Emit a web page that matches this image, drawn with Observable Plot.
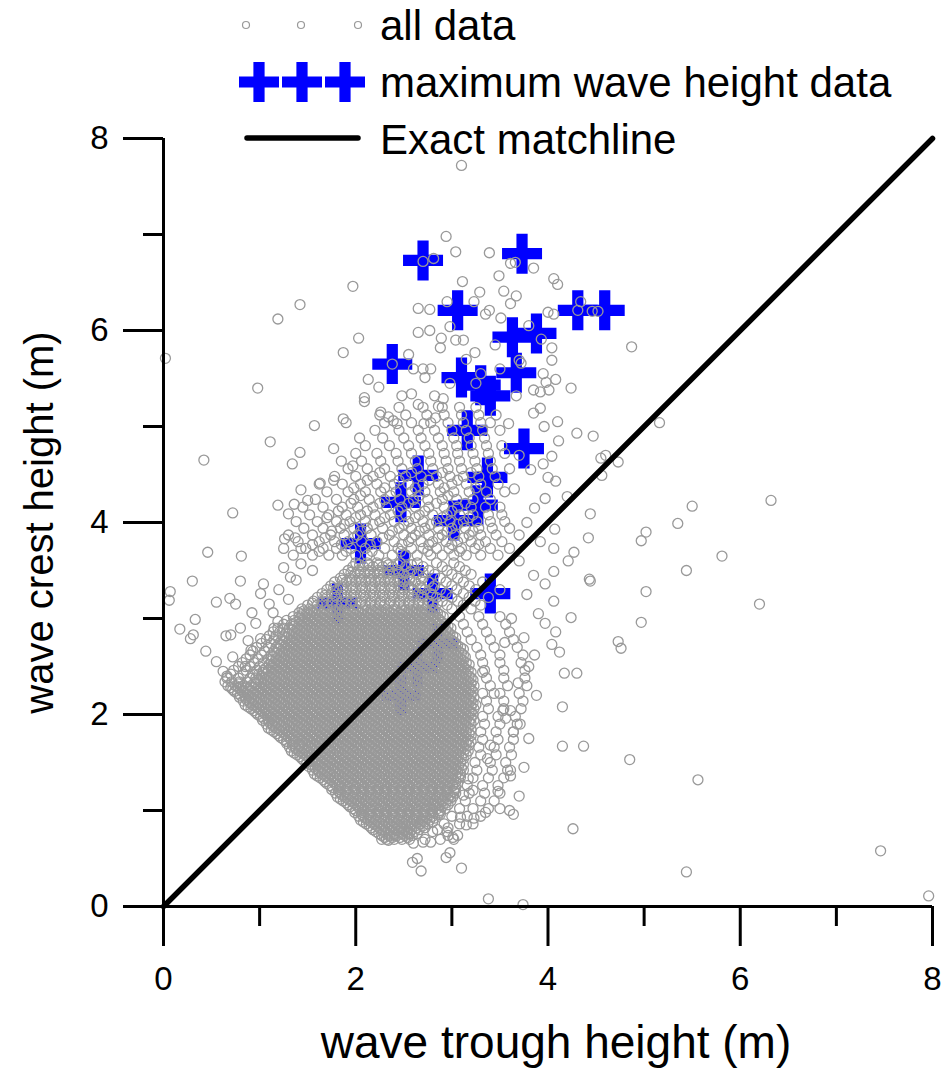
<!DOCTYPE html>
<html>
<head>
<meta charset="utf-8">
<script src="https://cdn.jsdelivr.net/npm/d3@7"></script>
<script src="https://cdn.jsdelivr.net/npm/@observablehq/plot@0.6"></script>
<style>
  html, body { margin: 0; padding: 0; background: #fff; }
  #chart { position: relative; width: 943px; height: 1068px; }
</style>
</head>
<body>
<div id="chart"></div>
<script>
// ---------- DATA ----------
const majorTicks = [0, 2, 4, 6, 8];
const minorTicks = [1, 3, 5, 7];
const xTitle = "wave trough height (m)";
const yTitle = "wave crest height (m)";
const legendLabels = ["all data", "maximum wave height data", "Exact matchline"];

// maximum wave height data (blue pluses)
const maxTrough = [2.70, 3.73, 3.06, 4.31, 4.59, 2.38, 3.63, 3.88, 3.10, 3.30, 3.40, 3.67, 3.16, 3.75, 2.65, 3.37, 2.47, 3.27, 3.02, 2.05, 2.50, 1.81, 2.80, 3.40, 2.85, 2.64, 2.47];
const maxCrest  = [6.73, 6.80, 6.21, 6.21, 6.21, 5.65, 5.93, 5.97, 5.51, 5.43, 5.32, 5.56, 4.96, 4.77, 4.49, 4.47, 4.21, 4.18, 4.02, 3.78, 3.50, 3.16, 3.26, 3.26, 2.74, 2.49, 2.20];

// exact matchline
const matchTrough = [0, 8];
const matchCrest = [0, 8];

// all data, dense cloud: [crest height, "trough heights ..."]
const coreRows = [
  [0.70, "2.27 2.32 2.40 2.48 2.56 2.72 2.88 3.02"],
  [0.74, "2.27 2.35 2.43 2.51 2.59"],
  [0.78, "2.21 2.29 2.37 2.45 2.53 2.61 2.80 2.95"],
  [0.82, "2.16 2.24 2.32 2.40 2.48 2.56 2.64 2.72"],
  [0.86, "2.11 2.19 2.27 2.35 2.43 2.51 2.59 2.67 2.75 2.92 3.08 3.22"],
  [0.90, "2.05 2.13 2.21 2.29 2.37 2.45 2.53 2.61 2.69 2.77"],
  [0.94, "2.03 2.08 2.16 2.24 2.32 2.40 2.48 2.56 2.64 2.72 2.80 3.00 3.16 3.30"],
  [0.98, "1.99 2.07 2.15 2.23 2.31 2.39 2.47 2.55 2.63 2.71 2.79 2.87"],
  [1.02, "1.97 2.05 2.13 2.21 2.29 2.37 2.45 2.53 2.61 2.69 2.77 2.85 2.93 3.08 3.22 3.38 3.50"],
  [1.06, "1.92 2.00 2.08 2.16 2.24 2.32 2.40 2.48 2.56 2.64 2.72 2.80 2.88 2.96"],
  [1.10, "1.87 1.95 2.03 2.11 2.19 2.27 2.35 2.43 2.51 2.59 2.67 2.75 2.83 2.91 2.99 3.14 3.30 3.44"],
  [1.14, "1.81 1.89 1.97 2.05 2.13 2.21 2.29 2.37 2.45 2.53 2.61 2.69 2.77 2.85 2.93 3.01"],
  [1.18, "1.79 1.84 1.92 2.00 2.08 2.16 2.24 2.32 2.40 2.48 2.56 2.64 2.72 2.80 2.88 2.96 3.04 3.18 3.34 3.50"],
  [1.22, "1.75 1.83 1.91 1.99 2.07 2.15 2.23 2.31 2.39 2.47 2.55 2.63 2.71 2.79 2.87 2.95 3.03"],
  [1.26, "1.73 1.81 1.89 1.97 2.05 2.13 2.21 2.29 2.37 2.45 2.53 2.61 2.69 2.77 2.85 2.93 3.01 3.16 3.32 3.48"],
  [1.30, "1.68 1.76 1.84 1.92 2.00 2.08 2.16 2.24 2.32 2.40 2.48 2.56 2.64 2.72 2.80 2.88 2.96 3.04"],
  [1.34, "1.63 1.71 1.79 1.87 1.95 2.03 2.11 2.19 2.27 2.35 2.43 2.51 2.59 2.67 2.75 2.83 2.91 2.99 3.07 3.22 3.38 3.54"],
  [1.38, "1.57 1.65 1.73 1.81 1.89 1.97 2.05 2.13 2.21 2.29 2.37 2.45 2.53 2.61 2.69 2.77 2.85 2.93 3.01 3.09"],
  [1.42, "1.55 1.61 1.68 1.76 1.84 1.92 2.00 2.08 2.16 2.24 2.32 2.40 2.48 2.56 2.64 2.72 2.80 2.88 2.96 3.04 3.12 3.26 3.42 3.58"],
  [1.46, "1.51 1.56 1.63 1.71 1.79 1.87 1.95 2.03 2.11 2.19 2.27 2.35 2.43 2.51 2.59 2.67 2.75 2.83 2.91 2.99 3.07"],
  [1.50, "1.49 1.57 1.65 1.73 1.81 1.89 1.97 2.05 2.13 2.21 2.29 2.37 2.45 2.53 2.61 2.69 2.77 2.85 2.93 3.01 3.09 3.24 3.40 3.56"],
  [1.54, "1.44 1.52 1.60 1.68 1.76 1.84 1.92 2.00 2.08 2.16 2.24 2.32 2.40 2.48 2.56 2.64 2.72 2.80 2.88 2.96 3.04 3.12"],
  [1.58, "1.39 1.47 1.55 1.63 1.71 1.79 1.87 1.95 2.03 2.11 2.19 2.27 2.35 2.43 2.51 2.59 2.67 2.75 2.83 2.91 2.99 3.07 3.15 3.30 3.46 3.62"],
  [1.62, "1.33 1.41 1.49 1.57 1.65 1.73 1.81 1.89 1.97 2.05 2.13 2.21 2.29 2.37 2.45 2.53 2.61 2.69 2.77 2.85 2.93 3.01 3.09 3.17"],
  [1.66, "1.31 1.37 1.44 1.52 1.60 1.68 1.76 1.84 1.92 2.00 2.08 2.16 2.24 2.32 2.40 2.48 2.56 2.64 2.72 2.80 2.88 2.96 3.04 3.12 3.28 3.44 3.60"],
  [1.70, "1.28 1.35 1.41 1.47 1.55 1.63 1.71 1.79 1.87 1.95 2.03 2.11 2.19 2.27 2.35 2.43 2.51 2.59 2.67 2.75 2.83 2.91 2.99 3.07 3.15"],
  [1.74, "1.25 1.33 1.41 1.49 1.57 1.65 1.73 1.81 1.89 1.97 2.05 2.13 2.21 2.29 2.37 2.45 2.53 2.61 2.69 2.77 2.85 2.93 3.01 3.09 3.17 3.32 3.48 3.64"],
  [1.78, "1.20 1.28 1.36 1.44 1.52 1.60 1.68 1.76 1.84 1.92 2.00 2.08 2.16 2.24 2.32 2.40 2.48 2.56 2.64 2.72 2.80 2.88 2.96 3.04 3.12 3.20"],
  [1.82, "1.15 1.23 1.31 1.39 1.47 1.55 1.63 1.71 1.79 1.87 1.95 2.03 2.11 2.19 2.27 2.35 2.43 2.51 2.59 2.67 2.75 2.83 2.91 2.99 3.07 3.15 3.30 3.46 3.64"],
  [1.86, "1.09 1.17 1.25 1.33 1.41 1.49 1.57 1.65 1.73 1.81 1.89 1.97 2.05 2.13 2.21 2.29 2.37 2.45 2.53 2.61 2.69 2.77 2.85 2.93 3.01 3.09 3.17"],
  [1.90, "1.07 1.13 1.20 1.28 1.36 1.44 1.52 1.60 1.68 1.76 1.84 1.92 2.00 2.08 2.16 2.24 2.32 2.40 2.48 2.56 2.64 2.72 2.80 2.88 2.96 3.04 3.12 3.20 3.34 3.50 3.68"],
  [1.94, "1.03 1.09 1.15 1.23 1.31 1.39 1.47 1.55 1.63 1.71 1.79 1.87 1.95 2.03 2.11 2.19 2.27 2.35 2.43 2.51 2.59 2.67 2.75 2.83 2.91 2.99 3.07 3.15 3.23"],
  [1.98, "1.01 1.09 1.17 1.25 1.33 1.41 1.49 1.57 1.65 1.73 1.81 1.89 1.97 2.05 2.13 2.21 2.29 2.37 2.45 2.53 2.61 2.69 2.77 2.85 2.93 3.01 3.09 3.17 3.32 3.48 3.66"],
  [2.02, "0.96 1.04 1.12 1.20 1.28 1.36 1.44 1.52 1.60 1.68 1.76 1.84 1.92 2.00 2.08 2.16 2.24 2.32 2.40 2.48 2.56 2.64 2.72 2.80 2.88 2.96 3.04 3.12 3.20"],
  [2.06, "0.91 0.99 1.07 1.15 1.23 1.31 1.39 1.47 1.55 1.63 1.71 1.79 1.87 1.95 2.03 2.11 2.19 2.27 2.35 2.43 2.51 2.59 2.67 2.75 2.83 2.91 2.99 3.07 3.15 3.23 3.38 3.54 3.72"],
  [2.10, "0.85 0.93 1.01 1.09 1.17 1.25 1.33 1.41 1.49 1.57 1.65 1.73 1.81 1.89 1.97 2.05 2.13 2.21 2.29 2.37 2.45 2.53 2.61 2.69 2.77 2.85 2.93 3.01 3.09 3.17 3.25"],
  [2.14, "0.83 0.89 0.96 1.04 1.12 1.20 1.28 1.36 1.44 1.52 1.60 1.68 1.76 1.84 1.92 2.00 2.08 2.16 2.24 2.32 2.40 2.48 2.56 2.64 2.72 2.80 2.88 2.96 3.04 3.12 3.20 3.36 3.54 3.74"],
  [2.18, "0.79 0.85 0.91 0.99 1.07 1.15 1.23 1.31 1.39 1.47 1.55 1.63 1.71 1.79 1.87 1.95 2.03 2.11 2.19 2.27 2.35 2.43 2.51 2.59 2.67 2.75 2.83 2.91 2.99 3.07 3.15 3.23"],
  [2.22, "0.77 0.85 0.93 1.01 1.09 1.17 1.25 1.33 1.41 1.49 1.57 1.65 1.73 1.81 1.89 1.97 2.05 2.13 2.21 2.29 2.37 2.45 2.53 2.61 2.69 2.77 2.85 2.93 3.01 3.09 3.17 3.32 3.50 3.70"],
  [2.26, "0.72 0.80 0.88 0.96 1.04 1.12 1.20 1.28 1.36 1.44 1.52 1.60 1.68 1.76 1.84 1.92 2.00 2.08 2.16 2.24 2.32 2.40 2.48 2.56 2.64 2.72 2.80 2.88 2.96 3.04 3.12 3.20"],
  [2.30, "0.67 0.75 0.83 0.91 0.99 1.07 1.15 1.23 1.31 1.39 1.47 1.55 1.63 1.71 1.79 1.87 1.95 2.03 2.11 2.19 2.27 2.35 2.43 2.51 2.59 2.67 2.75 2.83 2.91 2.99 3.07 3.15 3.23 3.40 3.58 3.78"],
  [2.34, "0.64 0.71 0.79 0.87 0.95 1.01 1.09 1.17 1.25 1.33 1.41 1.49 1.57 1.65 1.73 1.81 1.89 1.97 2.05 2.13 2.21 2.29 2.37 2.45 2.53 2.61 2.69 2.77 2.85 2.93 3.01 3.09 3.17"],
  [2.38, "0.66 0.78 0.90 0.96 1.04 1.12 1.20 1.28 1.36 1.44 1.52 1.60 1.68 1.76 1.84 1.92 2.00 2.08 2.16 2.24 2.32 2.40 2.48 2.56 2.64 2.72 2.80 2.88 2.96 3.04 3.12 3.20 3.36 3.54 3.76"],
  [2.42, "0.70 0.83 0.93 0.99 1.07 1.15 1.23 1.31 1.39 1.47 1.55 1.63 1.71 1.79 1.87 1.95 2.03 2.11 2.19 2.27 2.35 2.43 2.51 2.59 2.67 2.75 2.83 2.91 2.99 3.07 3.15"],
  [2.46, "0.73 0.86 0.97 1.04 1.09 1.17 1.25 1.33 1.41 1.49 1.57 1.65 1.73 1.81 1.89 1.97 2.05 2.13 2.21 2.29 2.37 2.45 2.53 2.61 2.69 2.77 2.85 2.93 3.01 3.09 3.17 3.34 3.54 3.76"],
  [2.50, "0.78 0.90 1.00 1.12 1.20 1.28 1.36 1.44 1.52 1.60 1.68 1.76 1.84 1.92 2.00 2.08 2.16 2.24 2.32 2.40 2.48 2.56 2.64 2.72 2.80 2.88 2.96 3.04 3.12"],
  [2.54, "0.82 0.94 1.04 1.15 1.23 1.31 1.39 1.47 1.55 1.63 1.71 1.79 1.87 1.95 2.03 2.11 2.19 2.27 2.35 2.43 2.51 2.59 2.67 2.75 2.83 2.91 2.99 3.07 3.15 3.32 3.50 3.72"],
  [2.58, "0.86 0.98 1.09 1.17 1.25 1.33 1.41 1.49 1.57 1.65 1.73 1.81 1.89 1.97 2.05 2.13 2.21 2.29 2.37 2.45 2.53 2.61 2.69 2.77 2.85 2.93 3.01 3.09"],
  [2.62, "0.90 1.02 1.12 1.20 1.28 1.36 1.44 1.52 1.60 1.68 1.76 1.84 1.92 2.00 2.08 2.16 2.24 2.32 2.40 2.48 2.56 2.64 2.72 2.80 2.88 2.96 3.04 3.12 3.30 3.50 3.74"],
  [2.66, "0.93 1.05 1.15 1.23 1.31 1.39 1.47 1.55 1.63 1.71 1.79 1.87 1.95 2.03 2.11 2.19 2.27 2.35 2.43 2.51 2.59 2.67 2.75 2.83 2.91 2.99 3.07"],
  [2.70, "0.97 1.09 1.17 1.25 1.33 1.41 1.49 1.57 1.65 1.73 1.81 1.89 1.97 2.05 2.13 2.21 2.29 2.37 2.45 2.53 2.61 2.69 2.77 2.85 2.93 3.01 3.09 3.26 3.44 3.68"],
  [2.74, "1.02 1.12 1.20 1.28 1.36 1.44 1.52 1.60 1.68 1.76 1.84 1.92 2.00 2.08 2.16 2.24 2.32 2.40 2.48 2.56 2.64 2.72 2.80 2.88 2.96 3.04"],
  [2.78, "1.07 1.15 1.23 1.31 1.39 1.47 1.55 1.63 1.71 1.79 1.87 1.95 2.03 2.11 2.19 2.27 2.35 2.43 2.51 2.59 2.67 2.75 2.83 2.91 2.99 3.20 3.40 3.64"],
  [2.82, "1.10 1.17 1.25 1.33 1.41 1.49 1.57 1.65 1.73 1.81 1.89 1.97 2.05 2.13 2.21 2.29 2.37 2.45 2.53 2.61 2.69 2.77 2.85 2.93 3.01"],
  [2.86, "1.14 1.21 1.28 1.36 1.44 1.52 1.60 1.68 1.76 1.84 1.92 2.00 2.08 2.16 2.24 2.32 2.40 2.48 2.56 2.64 2.72 2.80 2.88 2.96 3.16 3.36 3.60"],
  [2.90, "1.19 1.25 1.31 1.39 1.47 1.55 1.63 1.71 1.79 1.87 1.95 2.03 2.11 2.19 2.27 2.35 2.43 2.51 2.59 2.67 2.75 2.83 2.91 2.99"],
  [2.94, "1.25 1.33 1.41 1.49 1.57 1.65 1.73 1.81 1.89 1.97 2.05 2.13 2.21 2.29 2.37 2.45 2.53 2.61 2.69 2.77 2.85 2.93 3.12 3.32 3.56"],
  [2.98, "1.28 1.36 1.44 1.52 1.60 1.68 1.76 1.84 1.92 2.00 2.08 2.16 2.24 2.32 2.40 2.48 2.56 2.64 2.72 2.80 2.88"],
  [3.02, "1.35 1.41 1.47 1.55 1.63 1.71 1.79 1.87 1.95 2.03 2.11 2.19 2.27 2.35 2.43 2.51 2.59 2.67 2.75 2.83 2.91 3.08 3.28 3.50"],
  [3.06, "1.41 1.49 1.57 1.65 1.73 1.81 1.89 1.97 2.05 2.13 2.21 2.29 2.37 2.45 2.53 2.61 2.69 2.77 2.85"],
  [3.10, "1.44 1.52 1.60 1.68 1.76 1.84 1.92 2.00 2.08 2.16 2.24 2.32 2.40 2.48 2.56 2.64 2.72 2.80 3.00 3.20"],
  [3.14, "1.50 1.60 1.70 1.80 1.90 2.00 2.10 2.20 2.30 2.40 2.50 2.60 2.70 2.80 2.95 3.12 3.30"],
  [3.18, "1.56 1.66 1.76 1.86 1.96 2.06 2.16 2.26 2.36 2.46 2.56 2.66 2.76 2.90 3.06 3.24"],
  [3.22, "1.60 1.70 1.80 1.90 2.00 2.10 2.20 2.30 2.40 2.50 2.60 2.70 2.84 3.00 3.18 3.38"],
  [3.26, "1.65 1.75 1.85 1.95 2.05 2.15 2.25 2.35 2.45 2.55 2.65 2.78 2.94 3.12"],
  [3.30, "1.70 1.80 1.90 2.00 2.10 2.20 2.30 2.40 2.50 2.60 2.72 2.88 3.05 3.25"],
  [3.34, "1.74 1.85 1.95 2.05 2.15 2.25 2.35 2.45 2.55 2.67 2.82 3.00 3.18"],
  [3.38, "1.78 1.90 2.00 2.10 2.20 2.30 2.40 2.50 2.62 2.76 2.94 3.12 3.32"],
  [3.42, "1.84 1.94 2.04 2.14 2.24 2.34 2.44 2.56 2.70 2.88 3.06"],
  [3.46, "1.88 1.99 2.09 2.19 2.29 2.39 2.50 2.64 2.82 3.00 3.20"],
  [3.50, "1.92 2.03 2.13 2.23 2.33 2.44 2.58 2.76 2.95 3.14"],
  [3.54, "1.97 2.08 2.18 2.28 2.38 2.52 2.70 2.90 3.08"],
  [3.58, "2.00 2.12 2.22 2.32 2.46 2.64 2.84 3.02"]
];

// all data, the same cloud's in-between readings where it is solid grey
const coreRowsFill = [
  [0.72, "2.30 2.38 2.46 2.54"],
  [0.76, "2.24 2.32 2.40 2.48 2.56 2.64"],
  [0.80, "2.18 2.26 2.34 2.42 2.50 2.58 2.66"],
  [0.84, "2.14 2.22 2.30 2.38 2.46 2.54 2.62 2.70"],
  [0.88, "2.08 2.16 2.24 2.32 2.40 2.48 2.56 2.64 2.72 2.80"],
  [0.92, "2.10 2.18 2.26 2.34 2.42 2.50 2.58 2.66 2.74 2.82"],
  [0.96, "2.06 2.14 2.22 2.30 2.38 2.46 2.54 2.62 2.70 2.78 2.86"],
  [1.00, "2.00 2.08 2.16 2.24 2.32 2.40 2.48 2.56 2.64 2.72 2.80 2.88"],
  [1.04, "1.94 2.02 2.10 2.18 2.26 2.34 2.42 2.50 2.58 2.66 2.74 2.82 2.90"],
  [1.08, "1.90 1.98 2.06 2.14 2.22 2.30 2.38 2.46 2.54 2.62 2.70 2.78 2.86 2.94"],
  [1.12, "1.84 1.92 2.00 2.08 2.16 2.24 2.32 2.40 2.48 2.56 2.64 2.72 2.80 2.88 2.96"],
  [1.16, "1.86 1.94 2.02 2.10 2.18 2.26 2.34 2.42 2.50 2.58 2.66 2.74 2.82 2.90 2.98"],
  [1.20, "1.82 1.90 1.98 2.06 2.14 2.22 2.30 2.38 2.46 2.54 2.62 2.70 2.78 2.86 2.94 3.02"],
  [1.24, "1.76 1.84 1.92 2.00 2.08 2.16 2.24 2.32 2.40 2.48 2.56 2.64 2.72 2.80 2.88 2.96 3.04"],
  [1.28, "1.70 1.78 1.86 1.94 2.02 2.10 2.18 2.26 2.34 2.42 2.50 2.58 2.66 2.74 2.82 2.90 2.98 3.06"],
  [1.32, "1.66 1.74 1.82 1.90 1.98 2.06 2.14 2.22 2.30 2.38 2.46 2.54 2.62 2.70 2.78 2.86 2.94 3.02"],
  [1.36, "1.60 1.68 1.76 1.84 1.92 2.00 2.08 2.16 2.24 2.32 2.40 2.48 2.56 2.64 2.72 2.80 2.88 2.96 3.04"],
  [1.40, "1.62 1.70 1.78 1.86 1.94 2.02 2.10 2.18 2.26 2.34 2.42 2.50 2.58 2.66 2.74 2.82 2.90 2.98 3.06"],
  [1.44, "1.58 1.66 1.74 1.82 1.90 1.98 2.06 2.14 2.22 2.30 2.38 2.46 2.54 2.62 2.70 2.78 2.86 2.94 3.02 3.10"],
  [1.48, "1.52 1.60 1.68 1.76 1.84 1.92 2.00 2.08 2.16 2.24 2.32 2.40 2.48 2.56 2.64 2.72 2.80 2.88 2.96 3.04 3.12"],
  [1.52, "1.46 1.54 1.62 1.70 1.78 1.86 1.94 2.02 2.10 2.18 2.26 2.34 2.42 2.50 2.58 2.66 2.74 2.82 2.90 2.98 3.06"],
  [1.56, "1.42 1.50 1.58 1.66 1.74 1.82 1.90 1.98 2.06 2.14 2.22 2.30 2.38 2.46 2.54 2.62 2.70 2.78 2.86 2.94 3.02 3.10"],
  [1.60, "1.36 1.44 1.52 1.60 1.68 1.76 1.84 1.92 2.00 2.08 2.16 2.24 2.32 2.40 2.48 2.56 2.64 2.72 2.80 2.88 2.96 3.04 3.12"],
  [1.64, "1.38 1.46 1.54 1.62 1.70 1.78 1.86 1.94 2.02 2.10 2.18 2.26 2.34 2.42 2.50 2.58 2.66 2.74 2.82 2.90 2.98 3.06 3.14"],
  [1.68, "1.34 1.42 1.50 1.58 1.66 1.74 1.82 1.90 1.98 2.06 2.14 2.22 2.30 2.38 2.46 2.54 2.62 2.70 2.78 2.86 2.94 3.02 3.10 3.18"],
  [1.72, "1.28 1.36 1.44 1.52 1.60 1.68 1.76 1.84 1.92 2.00 2.08 2.16 2.24 2.32 2.40 2.48 2.56 2.64 2.72 2.80 2.88 2.96 3.04 3.12 3.20"],
  [1.76, "1.22 1.30 1.38 1.46 1.54 1.62 1.70 1.78 1.86 1.94 2.02 2.10 2.18 2.26 2.34 2.42 2.50 2.58 2.66 2.74 2.82 2.90 2.98 3.06 3.14"],
  [1.80, "1.18 1.26 1.34 1.42 1.50 1.58 1.66 1.74 1.82 1.90 1.98 2.06 2.14 2.22 2.30 2.38 2.46 2.54 2.62 2.70 2.78 2.86 2.94 3.02 3.10 3.18"],
  [1.84, "1.12 1.20 1.28 1.36 1.44 1.52 1.60 1.68 1.76 1.84 1.92 2.00 2.08 2.16 2.24 2.32 2.40 2.48 2.56 2.64 2.72 2.80 2.88 2.96 3.04 3.12 3.20"],
  [1.88, "1.14 1.22 1.30 1.38 1.46 1.54 1.62 1.70 1.78 1.86 1.94 2.02 2.10 2.18 2.26 2.34 2.42 2.50 2.58 2.66 2.74 2.82 2.90 2.98 3.06 3.14"],
  [1.92, "1.10 1.18 1.26 1.34 1.42 1.50 1.58 1.66 1.74 1.82 1.90 1.98 2.06 2.14 2.22 2.30 2.38 2.46 2.54 2.62 2.70 2.78 2.86 2.94 3.02 3.10 3.18"],
  [1.96, "1.04 1.12 1.20 1.28 1.36 1.44 1.52 1.60 1.68 1.76 1.84 1.92 2.00 2.08 2.16 2.24 2.32 2.40 2.48 2.56 2.64 2.72 2.80 2.88 2.96 3.04 3.12 3.20"],
  [2.00, "0.98 1.06 1.14 1.22 1.30 1.38 1.46 1.54 1.62 1.70 1.78 1.86 1.94 2.02 2.10 2.18 2.26 2.34 2.42 2.50 2.58 2.66 2.74 2.82 2.90 2.98 3.06 3.14 3.22"],
  [2.04, "0.94 1.02 1.10 1.18 1.26 1.34 1.42 1.50 1.58 1.66 1.74 1.82 1.90 1.98 2.06 2.14 2.22 2.30 2.38 2.46 2.54 2.62 2.70 2.78 2.86 2.94 3.02 3.10 3.18"],
  [2.08, "0.88 0.96 1.04 1.12 1.20 1.28 1.36 1.44 1.52 1.60 1.68 1.76 1.84 1.92 2.00 2.08 2.16 2.24 2.32 2.40 2.48 2.56 2.64 2.72 2.80 2.88 2.96 3.04 3.12 3.20"],
  [2.12, "0.90 0.98 1.06 1.14 1.22 1.30 1.38 1.46 1.54 1.62 1.70 1.78 1.86 1.94 2.02 2.10 2.18 2.26 2.34 2.42 2.50 2.58 2.66 2.74 2.82 2.90 2.98 3.06 3.14 3.22"],
  [2.16, "0.86 0.94 1.02 1.10 1.18 1.26 1.34 1.42 1.50 1.58 1.66 1.74 1.82 1.90 1.98 2.06 2.14 2.22 2.30 2.38 2.46 2.54 2.62 2.70 2.78 2.86 2.94 3.02 3.10 3.18"],
  [2.20, "0.80 0.88 0.96 1.04 1.12 1.20 1.28 1.36 1.44 1.52 1.60 1.68 1.76 1.84 1.92 2.00 2.08 2.16 2.24 2.32 2.40 2.48 2.56 2.64 2.72 2.80 2.88 2.96 3.04 3.12 3.20"],
  [2.24, "0.74 0.82 0.90 0.98 1.06 1.14 1.22 1.30 1.38 1.46 1.54 1.62 1.70 1.78 1.86 1.94 2.02 2.10 2.18 2.26 2.34 2.42 2.50 2.58 2.66 2.74 2.82 2.90 2.98 3.06 3.14 3.22"],
  [2.28, "0.70 0.78 0.86 0.94 1.02 1.10 1.18 1.26 1.34 1.42 1.50 1.58 1.66 1.74 1.82 1.90 1.98 2.06 2.14 2.22 2.30 2.38 2.46 2.54 2.62 2.70 2.78 2.86 2.94 3.02 3.10 3.18"],
  [2.32, "0.96 1.04 1.12 1.20 1.28 1.36 1.44 1.52 1.60 1.68 1.76 1.84 1.92 2.00 2.08 2.16 2.24 2.32 2.40 2.48 2.56 2.64 2.72 2.80 2.88 2.96 3.04 3.12 3.20"],
  [2.36, "0.98 1.06 1.14 1.22 1.30 1.38 1.46 1.54 1.62 1.70 1.78 1.86 1.94 2.02 2.10 2.18 2.26 2.34 2.42 2.50 2.58 2.66 2.74 2.82 2.90 2.98 3.06 3.14 3.22"],
  [2.40, "1.02 1.10 1.18 1.26 1.34 1.42 1.50 1.58 1.66 1.74 1.82 1.90 1.98 2.06 2.14 2.22 2.30 2.38 2.46 2.54 2.62 2.70 2.78 2.86 2.94 3.02 3.10 3.18"],
  [2.44, "1.04 1.12 1.20 1.28 1.36 1.44 1.52 1.60 1.68 1.76 1.84 1.92 2.00 2.08 2.16 2.24 2.32 2.40 2.48 2.56 2.64 2.72 2.80 2.88 2.96 3.04 3.12 3.20"],
  [2.48, "1.06 1.14 1.22 1.30 1.38 1.46 1.54 1.62 1.70 1.78 1.86 1.94 2.02 2.10 2.18 2.26 2.34 2.42 2.50 2.58 2.66 2.74 2.82 2.90 2.98 3.06 3.14"],
  [2.52, "1.10 1.18 1.26 1.34 1.42 1.50 1.58 1.66 1.74 1.82 1.90 1.98 2.06 2.14 2.22 2.30 2.38 2.46 2.54 2.62 2.70 2.78 2.86 2.94 3.02 3.10 3.18"],
  [2.56, "1.12 1.20 1.28 1.36 1.44 1.52 1.60 1.68 1.76 1.84 1.92 2.00 2.08 2.16 2.24 2.32 2.40 2.48 2.56 2.64 2.72 2.80 2.88 2.96 3.04 3.12"],
  [2.60, "1.14 1.22 1.30 1.38 1.46 1.54 1.62 1.70 1.78 1.86 1.94 2.02 2.10 2.18 2.26 2.34 2.42 2.50 2.58 2.66 2.74 2.82 2.90 2.98 3.06 3.14"],
  [2.64, "1.18 1.26 1.34 1.42 1.50 1.58 1.66 1.74 1.82 1.90 1.98 2.06 2.14 2.22 2.30 2.38 2.46 2.54 2.62 2.70 2.78 2.86 2.94 3.02 3.10"],
  [2.68, "1.20 1.28 1.36 1.44 1.52 1.60 1.68 1.76 1.84 1.92 2.00 2.08 2.16 2.24 2.32 2.40 2.48 2.56 2.64 2.72 2.80 2.88 2.96 3.04 3.12"],
  [2.72, "1.22 1.30 1.38 1.46 1.54 1.62 1.70 1.78 1.86 1.94 2.02 2.10 2.18 2.26 2.34 2.42 2.50 2.58 2.66 2.74 2.82 2.90 2.98 3.06"],
  [2.76, "1.26 1.34 1.42 1.50 1.58 1.66 1.74 1.82 1.90 1.98 2.06 2.14 2.22 2.30 2.38 2.46 2.54 2.62 2.70 2.78 2.86 2.94 3.02"],
  [2.80, "1.28 1.36 1.44 1.52 1.60 1.68 1.76 1.84 1.92 2.00 2.08 2.16 2.24 2.32 2.40 2.48 2.56 2.64 2.72 2.80 2.88 2.96 3.04"],
  [2.84, "1.30 1.38 1.46 1.54 1.62 1.70 1.78 1.86 1.94 2.02 2.10 2.18 2.26 2.34 2.42 2.50 2.58 2.66 2.74 2.82 2.90 2.98"],
  [2.88, "1.34 1.42 1.50 1.58 1.66 1.74 1.82 1.90 1.98 2.06 2.14 2.22 2.30 2.38 2.46 2.54 2.62 2.70 2.78 2.86 2.94"],
  [2.92, "1.36 1.44 1.52 1.60 1.68 1.76 1.84 1.92 2.00 2.08 2.16 2.24 2.32 2.40 2.48 2.56 2.64 2.72 2.80 2.88 2.96"],
  [2.96, "1.38 1.46 1.54 1.62 1.70 1.78 1.86 1.94 2.02 2.10 2.18 2.26 2.34 2.42 2.50 2.58 2.66 2.74 2.82 2.90"],
  [3.00, "1.42 1.50 1.58 1.66 1.74 1.82 1.90 1.98 2.06 2.14 2.22 2.30 2.38 2.46 2.54 2.62 2.70 2.78 2.86"],
  [3.04, "1.44 1.52 1.60 1.68 1.76 1.84 1.92 2.00 2.08 2.16 2.24 2.32 2.40 2.48 2.56 2.64 2.72 2.80 2.88"],
  [3.08, "1.46 1.54 1.62 1.70 1.78 1.86 1.94 2.02 2.10 2.18 2.26 2.34 2.42 2.50 2.58 2.66 2.74 2.82"],
  [3.16, "1.55 1.65 1.75 1.85 1.95 2.05 2.15 2.25 2.35 2.45 2.55 2.65 2.75 2.85"],
  [3.24, "1.68 1.78 1.88 1.98 2.08 2.18 2.28 2.38 2.48 2.58 2.68 2.80"],
  [3.32, "1.77 1.87 1.97 2.07 2.17 2.27 2.37 2.47 2.57 2.68 2.80"],
  [3.40, "1.86 1.96 2.06 2.16 2.26 2.36 2.46 2.56 2.68"],
  [3.48, "1.95 2.05 2.15 2.25 2.35 2.45 2.56 2.70"],
  [3.56, "2.04 2.14 2.24 2.34 2.44 2.58"]
];

// all data, upper cloud (moderate density)
const upperRows = [
  [3.66, "1.35 1.55 1.72 1.86 2.00 2.12 2.24 2.38 2.52 2.64 2.78 2.90 3.02 3.15 3.30 3.48"],
  [3.70, "1.62 1.90 2.17 2.47 2.75 3.08"],
  [3.73, "1.25 1.48 1.66 1.80 1.95 2.10 2.30 2.44 2.58 2.70 2.84 2.97 3.10 3.24 3.40 3.60"],
  [3.77, "1.55 1.85 2.15 2.48 2.76 3.00 3.28"],
  [3.80, "1.40 1.62 1.78 1.92 2.06 2.22 2.40 2.55 2.68 2.80 2.94 3.06 3.20 3.35 3.52"],
  [3.84, "1.68 1.98 2.28 2.58 2.86 3.12"],
  [3.87, "1.30 1.55 1.74 1.88 2.02 2.16 2.35 2.50 2.62 2.76 2.90 3.03 3.18 3.30 3.46 3.70"],
  [3.91, "1.75 2.05 2.38 2.66 2.95 3.22"],
  [3.94, "1.46 1.66 1.84 1.98 2.12 2.28 2.45 2.58 2.72 2.86 3.00 3.14 3.28 3.42 3.60"],
  [3.98, "1.88 2.18 2.50 2.78 3.06"],
  [4.01, "1.38 1.60 1.80 1.94 2.10 2.25 2.40 2.55 2.70 2.84 2.98 3.12 3.26 3.40 3.55"],
  [4.05, "1.70 2.00 2.30 2.62 2.90 3.18"],
  [4.08, "1.52 1.72 1.90 2.05 2.20 2.36 2.52 2.66 2.80 2.95 3.08 3.22 3.38 3.52"],
  [4.12, "1.82 2.12 2.44 2.72 3.00"],
  [4.16, "1.45 1.66 1.86 2.02 2.18 2.32 2.48 2.62 2.76 2.92 3.06 3.20 3.35 3.50"],
  [4.20, "1.95 2.25 2.55 2.84 3.14"],
  [4.24, "1.58 1.80 1.98 2.14 2.30 2.46 2.60 2.75 2.90 3.05 3.22 3.40"],
  [4.28, "2.05 2.36 2.66 2.96"],
  [4.32, "1.70 1.92 2.10 2.26 2.42 2.58 2.72 2.88 3.02 3.18 3.36 3.55"],
  [4.36, "1.98 2.30 2.62 2.92 3.25"],
  [4.40, "1.62 1.86 2.05 2.22 2.40 2.55 2.70 2.86 3.00 3.15 3.30 3.48"],
  [4.44, "2.12 2.45 2.76 3.06"],
  [4.48, "1.78 2.00 2.18 2.36 2.52 2.68 2.84 2.98 3.12 3.28 3.45"],
  [4.52, "2.25 2.58 2.90 3.20"],
  [4.56, "1.92 2.12 2.30 2.48 2.64 2.80 2.96 3.10 3.26 3.42 3.60"],
  [4.64, "1.85 2.06 2.26 2.44 2.62 2.78 2.94 3.08 3.24 3.40"],
  [4.72, "2.00 2.22 2.42 2.58 2.76 2.92 3.06 3.22 3.38 3.55"],
  [4.80, "2.10 2.35 2.55 2.72 2.90 3.05 3.20 3.36 3.52"],
  [4.88, "2.04 2.28 2.50 2.68 2.86 3.02 3.18 3.34"],
  [4.96, "2.20 2.45 2.65 2.82 3.00 3.15 3.32 3.50"],
  [5.04, "2.30 2.58 2.78 2.96 3.12 3.30"],
  [5.12, "2.25 2.52 2.74 2.92 3.10 3.28 3.46"],
  [5.20, "2.45 2.70 2.90 3.08 3.25"]
];

// all data, scattered individual points [trough, crest]
const scatterPoints = [
  [3.10,7.72],[2.94,6.98],[3.04,6.82],[3.39,6.81],[2.81,6.75],[2.70,6.72],[3.66,6.71],[3.61,6.70],[3.49,6.57],[4.06,6.54],
  [4.10,6.48],[3.11,6.51],[3.29,6.40],[3.54,6.41],[3.67,6.36],[1.97,6.46],[1.42,6.27],[1.19,6.12],[3.23,6.30],[3.61,6.28],
  [2.65,6.23],[2.77,6.22],[3.35,6.17],[3.39,6.21],[3.51,6.13],[4.34,6.30],[4.00,6.19],[4.06,6.17],[4.31,6.21],[4.46,6.20],
  [4.52,6.20],[2.65,5.98],[2.77,6.00],[2.98,6.04],[2.03,5.92],[2.89,5.92],[3.04,5.90],[3.12,5.90],[2.88,5.82],[1.87,5.77],
  [3.24,5.77],[3.70,5.69],[3.72,5.66],[4.87,5.83],[3.93,5.91],[4.04,5.82],[4.04,5.69],[0.02,5.71],[0.98,5.40],[2.13,5.49],
  [2.24,5.41],[2.48,5.32],[2.58,5.34],[2.60,5.60],[2.70,5.60],[2.78,5.60],[2.72,5.51],[2.38,5.65],[2.09,5.30],[2.09,5.26],
  [2.65,5.23],[2.82,5.32],[2.91,5.29],[2.86,5.21],[2.98,5.45],[3.85,5.38],[3.92,5.36],[3.95,5.55],[4.08,5.49],[3.98,5.46],
  [4.01,5.38],[4.24,5.40],[3.67,5.32],[2.26,5.15],[2.34,5.10],[2.39,5.06],[2.43,5.03],[1.87,5.08],[1.90,5.04],[1.57,5.01],
  [2.71,5.03],[2.83,5.09],[3.40,5.04],[3.59,5.03],[3.85,5.14],[3.92,5.19],[3.96,5.00],[4.10,5.05],[4.30,4.93],[4.47,4.90],
  [5.16,5.04],[4.11,4.85],[4.04,4.69],[4.55,4.67],[4.60,4.70],[4.73,4.63],[3.95,4.61],[4.56,4.49],[4.00,4.47],[4.08,4.43],
  [4.20,4.27],[3.97,4.25],[3.30,5.55],[3.25,5.45],[3.50,5.60],[3.15,5.70],[3.45,5.85],[3.80,6.05],[2.55,5.75],[2.95,6.30],
  [3.85,6.65],
  [4.44,4.09],[5.50,4.17],[6.32,4.23],[5.35,3.99],[5.02,3.90],[4.97,3.81],[4.07,3.93],[4.42,3.84],[4.06,3.73],[4.27,3.69],
  [4.21,3.60],[5.81,3.65],[4.06,3.49],[3.97,3.36],[4.43,3.41],[4.44,3.39],[5.44,3.50],[5.02,3.28],[4.06,3.18],[6.20,3.15],
  [4.24,3.01],[3.97,2.95],[4.08,2.86],[4.97,2.96],[4.73,2.76],[4.76,2.69],[4.04,2.73],[4.12,2.65],[4.17,2.43],[4.30,2.43],
  [4.15,2.08],[4.15,1.67],[4.37,1.67],[4.85,1.53],[5.56,1.32],[4.26,0.81],[5.44,0.36],[7.46,0.58],[7.96,0.11],
  [3.61,1.42],[3.61,1.36],[3.60,1.00],[3.64,0.96],[3.53,2.04],[3.56,1.96],[3.64,1.82],[3.71,1.90],[3.69,2.33],[3.61,2.04],
  [3.44,2.22],[3.32,2.44],[3.40,1.68],[3.37,1.54],[3.35,0.98],[3.23,0.92],[3.09,0.93],[2.88,0.96],[2.99,1.14],[3.12,1.16],
  [3.22,1.21],[3.17,1.33],[3.09,1.35],[3.01,1.26],[2.81,1.07],[3.80,2.50],[3.86,2.62],[3.75,2.80],[3.90,3.05],[3.78,3.25],
  [3.85,3.45],[3.70,3.60],[3.92,3.80],[3.78,4.00],[3.86,4.15],[3.65,4.35],[3.82,4.55],[3.70,4.70],[3.55,2.75],[3.62,3.00],
  [3.50,3.30],[3.88,2.20],[3.80,1.75],[3.75,1.45],[3.48,1.20],[3.70,1.15],
  [2.34,0.69],[2.60,0.66],[2.70,0.67],[2.78,0.67],[2.96,0.74],[3.01,0.72],[3.06,0.74],[2.54,0.76],[2.47,0.81],[2.60,0.91],
  [2.70,0.89],[3.10,0.40],[2.68,0.37],[2.59,0.46],[2.64,0.50],[2.94,0.51],[2.98,0.56],[2.96,0.82],[3.38,0.08],[3.74,0.02],
  [2.85,0.80],[3.15,0.85],[2.40,0.74],
  [0.42,4.65],[0.72,4.10],[0.46,3.69],[0.81,3.65],[1.11,4.84],[1.42,4.73],[1.34,4.61],[1.77,4.77],[1.97,4.59],[1.63,4.41],
  [1.43,4.34],[1.77,4.44],[1.19,4.18],[1.30,4.09],[1.36,4.19],[1.50,4.23],[1.26,3.83],[1.37,3.84],[1.43,3.73],[1.25,3.53],
  [1.32,3.43],[1.43,3.57],[0.30,3.39],[0.80,3.39],[0.07,3.28],[0.06,3.19],[0.55,3.17],[0.69,3.21],[0.75,3.15],[0.33,2.99],
  [0.17,2.89],[0.31,2.83],[0.28,2.79],[0.44,2.66],[0.65,2.82],[0.70,2.83],[0.80,2.90],[0.92,3.06],[1.01,3.26],[1.04,3.36],
  [1.14,3.06],[1.19,2.97],[0.62,2.45],[0.66,2.40],[0.78,2.32],[0.81,2.29],[0.88,2.77],[0.91,2.67],[1.01,2.79],[0.55,2.55],
  [0.72,2.60],[0.85,2.50],[0.96,2.95],[1.10,3.15],[1.20,3.30],[1.30,3.20],[1.38,3.40],[1.55,3.50],[1.15,2.90]
];

// ---------- BUILD TABLES ----------
const allPoints = [];
for (const rows of [coreRows, coreRowsFill, upperRows]) {
  for (const [crest, list] of rows) {
    for (const t of list.trim().split(/\s+/)) allPoints.push({trough: +t, crest});
  }
}
for (const [trough, crest] of scatterPoints) allPoints.push({trough, crest});

const maxData = maxTrough.map((t, i) => ({trough: t, crest: maxCrest[i]}));
const matchData = matchTrough.map((t, i) => ({trough: t, crest: matchCrest[i]}));

// filled plus symbol (arm thickness ≈ 0.56 of half-length)
const plusSymbol = {
  draw(context, size) {
    const h = Math.sqrt(size / Math.PI);
    const t = h * 0.28;
    context.moveTo(-h, -t);
    context.lineTo(-t, -t);
    context.lineTo(-t, -h);
    context.lineTo(t, -h);
    context.lineTo(t, -t);
    context.lineTo(h, -t);
    context.lineTo(h, t);
    context.lineTo(t, t);
    context.lineTo(t, h);
    context.lineTo(-t, h);
    context.lineTo(-t, t);
    context.lineTo(-h, t);
    context.closePath();
  }
};

const FONT = "'Liberation Sans', Arial, Helvetica, sans-serif";
const GREY = "#999999";

const svg = Plot.plot({
  width: 943,
  height: 1068,
  marginLeft: 163,
  marginRight: 11,
  marginTop: 138,
  marginBottom: 162,
  x: {domain: [0, 8]},
  y: {domain: [0, 8]},
  style: {fontFamily: FONT, color: "black", background: "white", overflow: "visible"},
  marks: [
    Plot.dot(maxData, {x: "trough", y: "crest", symbol: plusSymbol, r: 20, fill: "#0000ff", stroke: "none"}),
    Plot.dot(allPoints, {x: "trough", y: "crest", r: 5, stroke: GREY, strokeWidth: 1.3, fill: "none"}),
    Plot.line(matchData, {x: "trough", y: "crest", stroke: "black", strokeWidth: 5.5, strokeLinecap: "round"}),
    Plot.ruleY([0], {stroke: "black", strokeWidth: 3}),
    Plot.ruleX([0], {stroke: "black", strokeWidth: 3}),
    Plot.axisX(majorTicks, {tickSize: 40, tickPadding: 20, fontSize: 33, strokeWidth: 3, stroke: "black", label: null, tickFormat: d => String(d)}),
    Plot.axisX(minorTicks, {tickSize: 20, strokeWidth: 3, stroke: "black", label: null, tickFormat: () => ""}),
    Plot.axisY(majorTicks, {tickSize: 40, tickPadding: 15, fontSize: 33, strokeWidth: 3, stroke: "black", label: null, tickFormat: d => String(d)}),
    Plot.axisY(minorTicks, {tickSize: 20, strokeWidth: 3, stroke: "black", label: null, tickFormat: () => ""}),
    Plot.text([xTitle], {frameAnchor: "bottom", dy: 137, dx: 8, lineAnchor: "middle", textAnchor: "middle", fontSize: 46, fill: "black"}),
    Plot.text([yTitle], {frameAnchor: "left", dx: -123, rotate: -90, lineAnchor: "middle", textAnchor: "middle", fontSize: 40, fill: "black"})
  ]
});

// ---------- LEGEND ----------
const lg = d3.select(svg).append("g")
  .attr("font-family", FONT)
  .attr("font-size", 42)
  .attr("text-anchor", "start")
  .attr("fill", "black");

[246, 301, 358].forEach(cx => {
  lg.append("circle").attr("cx", cx).attr("cy", 25).attr("r", 3.5)
    .attr("fill", "none").attr("stroke", GREY).attr("stroke-width", 1.2);
});
lg.append("text").attr("x", 380).attr("y", 25).attr("dy", "0.35em").attr("text-anchor", "start").text(legendLabels[0]);

const plusPath = d3.symbol(plusSymbol, Math.PI * 20 * 20)();
[259, 302, 345].forEach(cx => {
  lg.append("path").attr("d", plusPath).attr("transform", `translate(${cx},82)`)
    .attr("fill", "#0000ff");
});
lg.append("text").attr("x", 380).attr("y", 82).attr("dy", "0.35em").attr("text-anchor", "start").text(legendLabels[1]);

lg.append("line").attr("x1", 247).attr("x2", 358).attr("y1", 138).attr("y2", 138)
  .attr("stroke", "black").attr("stroke-width", 5.5).attr("stroke-linecap", "round");
lg.append("text").attr("x", 380).attr("y", 139).attr("dy", "0.35em").attr("text-anchor", "start").text(legendLabels[2]);

document.getElementById("chart").appendChild(svg);
</script>
</body>
</html>
